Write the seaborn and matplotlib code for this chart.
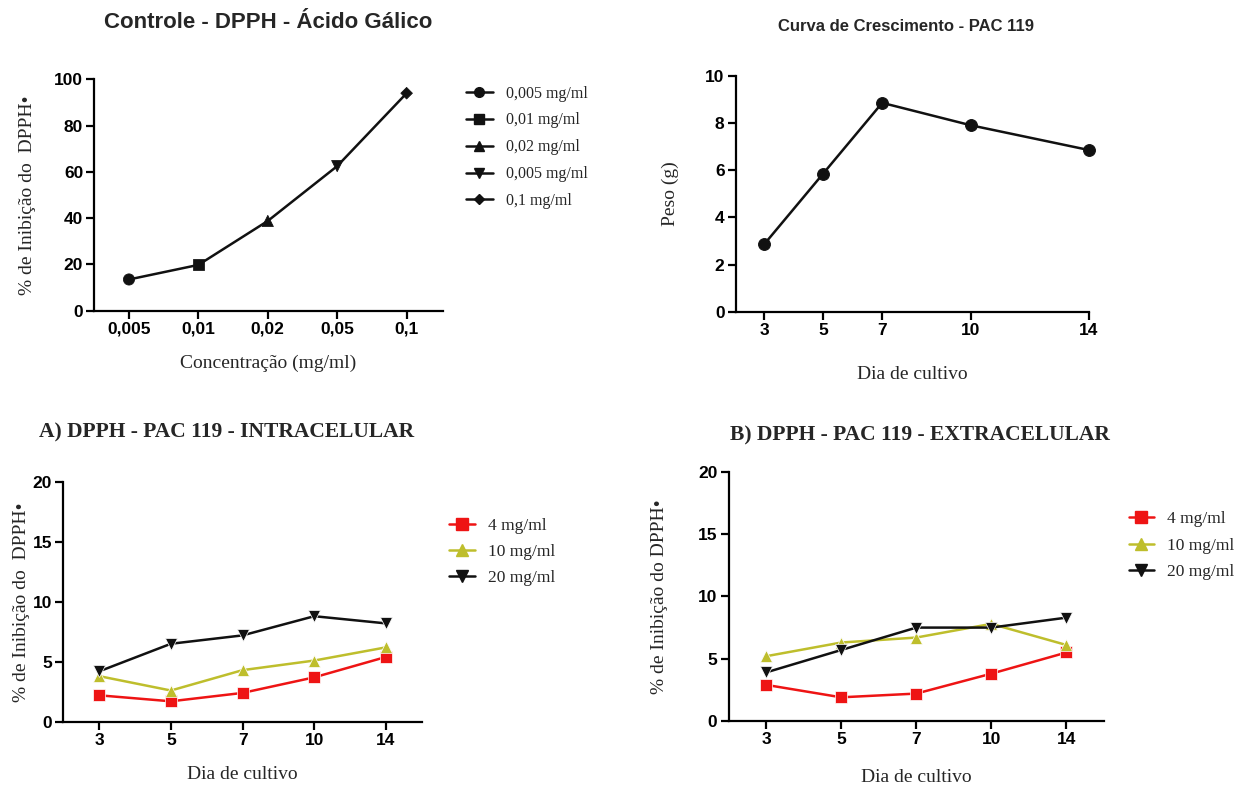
import matplotlib
matplotlib.use("Agg")
import matplotlib.pyplot as plt
from matplotlib.lines import Line2D
import seaborn as sns
import pandas as pd

# ---------------- data ----------------
conc_labels = ["0,005", "0,01", "0,02", "0,05", "0,1"]
gallic_inhib = [13.5, 19.8, 38.8, 62.5, 94.0]
gallic_legend = ["0,005 mg/ml", "0,01 mg/ml", "0,02 mg/ml", "0,005 mg/ml", "0,1 mg/ml"]

growth_days = [3, 5, 7, 10, 14]
growth_weight = [2.85, 5.85, 8.85, 7.9, 6.85]

day_labels = ["3", "5", "7", "10", "14"]
series_names = ["4 mg/ml", "10 mg/ml", "20 mg/ml"]
intra_4 = [2.2, 1.7, 2.4, 3.7, 5.4]
intra_10 = [3.8, 2.6, 4.3, 5.1, 6.2]
intra_20 = [4.2, 6.5, 7.2, 8.8, 8.2]
extra_4 = [2.9, 1.9, 2.2, 3.8, 5.5]
extra_10 = [5.2, 6.3, 6.7, 7.8, 6.1]
extra_20 = [3.9, 5.7, 7.5, 7.5, 8.3]

# ---------------- style ----------------
sns.set_theme(style="ticks")
plt.rcParams["font.family"] = ["Liberation Sans", "DejaVu Sans"]
plt.rcParams["axes.linewidth"] = 1.6
plt.rcParams["xtick.major.width"] = 1.6
plt.rcParams["ytick.major.width"] = 1.6
plt.rcParams["xtick.major.size"] = 5.5
plt.rcParams["ytick.major.size"] = 5.5
plt.rcParams["axes.edgecolor"] = "black"

RED = "#ee1414"
YEL = "#bebe2c"
BLK = "#111111"
SERIF = ["Liberation Serif", "DejaVu Serif"]
LABEL_SIZE = 14
TICK_SIZE = 12.5

fig = plt.figure(figsize=(12.52, 7.87), dpi=100)
ax_tl = fig.add_axes([0.0753, 0.6052, 0.2783, 0.2940])
ax_tr = fig.add_axes([0.5876, 0.6039, 0.2822, 0.2999])
ax_bl = fig.add_axes([0.0506, 0.0830, 0.2863, 0.3046])
ax_br = fig.add_axes([0.5819, 0.0839, 0.2999, 0.3164])


def style_axis(ax):
    sns.despine(ax=ax)
    ax.tick_params(axis="both", direction="out", colors="black", pad=2.5)
    for lab in ax.get_xticklabels() + ax.get_yticklabels():
        lab.set_fontfamily(["Liberation Sans", "DejaVu Sans"])
        lab.set_fontweight("bold")
        lab.set_fontsize(TICK_SIZE)


# ---------------- top-left ----------------
df_g = pd.DataFrame({"conc": conc_labels, "inib": gallic_inhib})
sns.lineplot(data=df_g, x="conc", y="inib", color=BLK, linewidth=1.8, ax=ax_tl, sort=False)
gal_markers = dict(zip(conc_labels, ["o", "s", "^", "v", "D"]))
gal_sizes = dict(zip(conc_labels, [65, 65, 65, 65, 35]))
sns.scatterplot(data=df_g, x="conc", y="inib", style="conc", markers=gal_markers,
                size="conc", sizes=gal_sizes,
                color=BLK, edgecolor=BLK, legend=False, ax=ax_tl, zorder=3)
ax_tl.set_xlim(-0.5, 4.52)
ax_tl.set_ylim(0, 100)
ax_tl.set_yticks([0, 20, 40, 60, 80, 100])
ax_tl.set_xlabel("Concentração (mg/ml)", family=SERIF, fontsize=LABEL_SIZE)
ax_tl.set_ylabel("% de Inibição do  DPPH•", family=SERIF, fontsize=LABEL_SIZE)
ax_tl.xaxis.set_label_coords(0.5, -0.19)
ax_tl.yaxis.set_label_coords(-0.168, 0.5)
style_axis(ax_tl)
hand_tl = [Line2D([], [], color=BLK, lw=1.8, marker=m, markersize=ms)
           for m, ms in zip(["o", "s", "^", "v", "D"], [7, 7, 7, 7, 5])]
ax_tl.legend(hand_tl, gallic_legend, loc="upper left",
             bbox_to_anchor=(0.3605, 0.9095), bbox_transform=fig.transFigure,
             frameon=False, prop=dict(family=SERIF, size=11.5),
             handlelength=1.7, handletextpad=0.8, labelspacing=0.68)

# ---------------- top-right ----------------
df_w = pd.DataFrame({"dia": growth_days, "peso": growth_weight})
sns.lineplot(data=df_w, x="dia", y="peso", color=BLK, linewidth=1.8, marker="o",
             markersize=8.5, markeredgecolor=BLK, clip_on=False, ax=ax_tr)
ax_tr.set_xlim(2.04, 14)
ax_tr.set_ylim(0, 10)
ax_tr.set_xticks(growth_days)
ax_tr.set_yticks([0, 2, 4, 6, 8, 10])
ax_tr.set_xlabel("Dia de cultivo", family=SERIF, fontsize=LABEL_SIZE)
ax_tr.set_ylabel("Peso (g)", family=SERIF, fontsize=LABEL_SIZE)
ax_tr.xaxis.set_label_coords(0.5, -0.232)
ax_tr.yaxis.set_label_coords(-0.161, 0.5)
style_axis(ax_tr)


# ---------------- bottom panels ----------------
def dpph_panel(ax, v4, v10, v20, ylabel, leg_anchor, spacing):
    df = pd.DataFrame({
        "dia": day_labels * 3,
        "inib": v4 + v10 + v20,
        "conc": [series_names[0]] * 5 + [series_names[1]] * 5 + [series_names[2]] * 5,
    })
    sns.lineplot(data=df, x="dia", y="inib", hue="conc", style="conc",
                 palette=[RED, YEL, BLK], markers=["s", "^", "v"], dashes=False,
                 linewidth=1.8, markersize=9, markeredgewidth=0.5, sort=False,
                 legend=False, ax=ax)
    ax.set_xlim(-0.5, 4.5)
    ax.set_ylim(0, 20)
    ax.set_yticks([0, 5, 10, 15, 20])
    ax.set_xlabel("Dia de cultivo", family=SERIF, fontsize=LABEL_SIZE)
    ax.set_ylabel(ylabel, family=SERIF, fontsize=LABEL_SIZE)
    style_axis(ax)
    hands = [Line2D([], [], color=c, lw=1.8, marker=m, markersize=8)
             for c, m in zip([RED, YEL, BLK], ["s", "^", "v"])]
    ax.legend(hands, series_names, loc="upper left", bbox_to_anchor=leg_anchor,
              bbox_transform=fig.transFigure, frameon=False,
              prop=dict(family=SERIF, size=12.5), handlelength=1.45,
              handletextpad=0.75, labelspacing=spacing)


dpph_panel(ax_bl, intra_4, intra_10, intra_20, "% de Inibição do  DPPH•", (0.3465, 0.3615), 0.57)
ax_bl.xaxis.set_label_coords(0.5, -0.185)
ax_bl.yaxis.set_label_coords(-0.094, 0.5)
dpph_panel(ax_br, extra_4, extra_10, extra_20, "% de Inibição do DPPH•", (0.889, 0.3705), 0.6)
ax_br.xaxis.set_label_coords(0.5, -0.193)
ax_br.yaxis.set_label_coords(-0.162, 0.5)

# ---------------- titles ----------------
fig.text(0.214, 0.972, "Controle - DPPH - Ácido Gálico", ha="center", va="center",
         family=["Liberation Sans", "DejaVu Sans"], weight="bold", fontsize=16)
fig.text(0.724, 0.966, "Curva de Crescimento - PAC 119", ha="center", va="center",
         family=["Liberation Sans", "DejaVu Sans"], weight="bold", fontsize=12)
fig.text(0.181, 0.450, "A) DPPH - PAC 119 - INTRACELULAR", ha="center", va="center",
         family=SERIF, weight="bold", fontsize=15.5)
fig.text(0.735, 0.447, "B) DPPH - PAC 119 - EXTRACELULAR", ha="center", va="center",
         family=SERIF, weight="bold", fontsize=15.5)

fig.savefig("out.png", dpi=100, facecolor="white")
